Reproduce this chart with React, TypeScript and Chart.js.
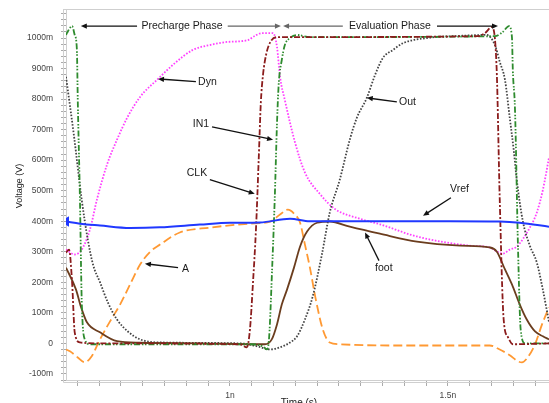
import React, { useEffect, useRef } from 'react';
import { Chart, registerables } from 'chart.js';

Chart.register(...registerables);

// ---- axis settings (time in ns, voltage in mV) ----
const timeMin = 0.624;
const timeMax = 1.732;
const voltMin = -120;
const voltMax = 1095;
const timeTickLabels: Record<string, string> = { '1': '1n', '1.5': '1.5n' };

// ---- series ----
const clkT = [0.624, 0.631, 0.638, 0.644, 0.656, 0.702, 1.023, 1.039, 1.046, 1.053, 1.060, 1.066, 1.071, 1.076, 1.083, 1.092, 1.108, 1.161, 1.569, 1.585, 1.601, 1.612, 1.619, 1.628, 1.638, 1.649, 1.732];
const clkV = [297, 307, 199, 36, 3, 0, -3, -13, 46, 200, 380, 600, 790, 880, 945, 985, 1003, 1003, 1006, 1016, 1036, 895, 471, 78, 20, -3, 0];

const in1T = [0.624, 0.626, 0.638, 0.644, 0.649, 0.651, 0.656, 0.660, 0.667, 0.679, 1.046, 1.076, 1.085, 1.090, 1.097, 1.103, 1.108, 1.112, 1.119, 1.126, 1.138, 1.154, 1.183, 1.608, 1.626, 1.640, 1.647, 1.649, 1.654, 1.661, 1.667, 1.677, 1.732];
const in1V = [1010, 1016, 1039, 1010, 961, 797, 471, 144, 13, -3, -3, -10, -20, 20, 250, 480, 720, 850, 928, 977, 1000, 1010, 1003, 1006, 1020, 1039, 1003, 895, 765, 307, 46, 0, 0];

const dynT = [0.624, 0.644, 0.660, 0.679, 0.695, 0.718, 0.741, 0.764, 0.794, 0.835, 0.874, 0.915, 0.954, 0.993, 1.041, 1.057, 1.073, 1.099, 1.108, 1.115, 1.126, 1.149, 1.172, 1.206, 1.241, 1.298, 1.344, 1.429, 1.550, 1.596, 1.612, 1.626, 1.642, 1.658, 1.688, 1.704, 1.718, 1.732];
const dynV = [307, 291, 307, 373, 471, 585, 667, 738, 807, 866, 918, 961, 977, 987, 993, 1007, 1016, 1016, 971, 873, 797, 660, 560, 490, 440, 408, 390, 350, 320, 314, 301, 294, 307, 317, 379, 428, 503, 608];

const outT = [0.624, 0.642, 0.660, 0.674, 0.686, 0.702, 0.720, 0.741, 0.766, 0.794, 0.839, 1.023, 1.064, 1.092, 1.115, 1.138, 1.154, 1.172, 1.190, 1.211, 1.229, 1.252, 1.275, 1.291, 1.314, 1.333, 1.351, 1.374, 1.397, 1.452, 1.528, 1.589, 1.608, 1.619, 1.631, 1.642, 1.651, 1.658, 1.672, 1.688, 1.704, 1.718, 1.732];
const outV = [873, 683, 471, 340, 258, 200, 134, 78, 39, 13, 3, 0, -10, -20, -13, 3, 23, 78, 154, 291, 428, 536, 667, 738, 804, 879, 935, 961, 983, 1000, 1007, 1010, 977, 922, 863, 738, 634, 536, 400, 320, 265, 175, 70];

const aT = [0.624, 0.633, 0.651, 0.667, 0.683, 0.702, 0.725, 0.748, 0.771, 0.794, 0.817, 0.839, 0.885, 0.954, 1.046, 1.092, 1.115, 1.133, 1.149, 1.161, 1.172, 1.183, 1.197, 1.213, 1.229, 1.252, 1.390, 1.596, 1.619, 1.642, 1.661, 1.670, 1.683, 1.700, 1.716, 1.732];
const aV = [-20, -26, -46, -62, -42, 13, 72, 127, 193, 258, 300, 323, 363, 379, 392, 399, 422, 438, 422, 395, 324, 252, 144, 46, 3, -3, -7, -7, -20, -39, -59, -62, -46, -3, 62, 118];

const vrefT = [0.624, 0.656, 0.702, 0.771, 0.839, 0.931, 1.0, 1.069, 1.138, 1.183, 1.275, 1.505, 1.619, 1.665, 1.732];
const vrefV = [399, 392, 386, 378, 380, 389, 395, 396, 408, 400, 400, 400, 399, 395, 382];

const footT = [0.624, 0.647, 0.658, 0.672, 0.702, 0.741, 0.794, 0.931, 1.080, 1.096, 1.108, 1.119, 1.131, 1.147, 1.161, 1.177, 1.200, 1.229, 1.275, 1.344, 1.429, 1.528, 1.596, 1.612, 1.631, 1.649, 1.665, 1.681, 1.700, 1.718, 1.732];
const footV = [248, 176, 121, 69, 36, 7, 2, 0, -3, 13, 62, 127, 176, 248, 317, 366, 395, 399, 382, 359, 333, 320, 314, 301, 242, 186, 127, 78, 39, 23, 13];

// ---- annotations (data coordinates) ----
const phaseLabels = ['Precharge Phase', 'Evaluation Phase'];
const phaseLabelT = [0.890, 1.367];
const phaseLevel = 1039;
const phaseArrowFromT = [0.787, 0.995, 1.259, 1.475];
const phaseArrowToT = [0.658, 1.117, 1.122, 1.615];

const noteLabels = ['Dyn', 'Out', 'IN1', 'CLK', 'Vref', 'foot', 'A'];
const noteTextT = [0.927, 1.388, 0.915, 0.901, 1.505, 1.333, 0.890];
const noteTextV = [857, 791, 719, 556, 506, 248, 242];
const noteFromT = [0.922, 1.383, 0.959, 0.954, 1.507, 1.342, 0.881];
const noteFromV = [857, 791, 709, 536, 477, 271, 248];
const noteToT = [0.835, 1.314, 1.099, 1.057, 1.443, 1.310, 0.805];
const noteToV = [866, 804, 667, 490, 418, 363, 261];

const FONT = '"Liberation Sans", Arial, Helvetica, sans-serif';

const toPts = (t: number[], v: number[]) => t.map((x, i) => ({ x, y: v[i] }));

function arrow(ctx: CanvasRenderingContext2D, x1: number, y1: number, x2: number, y2: number, color: string) {
  const ang = Math.atan2(y2 - y1, x2 - x1);
  const len = 6;
  const hw = 2.6;
  ctx.strokeStyle = color;
  ctx.fillStyle = color;
  ctx.lineWidth = 1.3;
  ctx.beginPath();
  ctx.moveTo(x1, y1);
  ctx.lineTo(x2 - Math.cos(ang) * len * 0.8, y2 - Math.sin(ang) * len * 0.8);
  ctx.stroke();
  ctx.beginPath();
  ctx.moveTo(x2, y2);
  ctx.lineTo(x2 - Math.cos(ang) * len - Math.sin(ang) * hw, y2 - Math.sin(ang) * len + Math.cos(ang) * hw);
  ctx.lineTo(x2 - Math.cos(ang) * len + Math.sin(ang) * hw, y2 - Math.sin(ang) * len - Math.cos(ang) * hw);
  ctx.closePath();
  ctx.fill();
}

const noPad = (s: any) => {
  s.paddingTop = 0;
  s.paddingBottom = 0;
  s.paddingLeft = 0;
  s.paddingRight = 0;
};

export default function App() {
  const ref = useRef<HTMLCanvasElement>(null);

  useEffect(() => {
    document.body.style.margin = '0';
    const canvas = ref.current;
    if (!canvas) return;

    const decorPlugin = {
      id: 'decor',
      beforeDatasetsDraw(chart: any) {
        const { ctx, chartArea: a } = chart;
        ctx.save();
        ctx.strokeStyle = '#cfcfcf';
        ctx.lineWidth = 1;
        ctx.beginPath();
        ctx.moveTo(a.left - 2.5, a.top + 0.5);
        ctx.lineTo(a.right, a.top + 0.5);
        ctx.moveTo(a.left - 2.5, a.top);
        ctx.lineTo(a.left - 2.5, a.bottom + 2.5);
        ctx.lineTo(a.right, a.bottom + 2.5);
        ctx.stroke();
        ctx.restore();
      },
      afterDatasetsDraw(chart: any) {
        const { ctx } = chart;
        const xs = chart.scales.x;
        const ys = chart.scales.y;
        ctx.save();
        ctx.font = `10.5px ${FONT}`;
        ctx.textBaseline = 'middle';
        ctx.textAlign = 'center';
        ctx.fillStyle = '#1a1a1a';
        const py = ys.getPixelForValue(phaseLevel);
        phaseLabels.forEach((s, i) => ctx.fillText(s, xs.getPixelForValue(phaseLabelT[i]), py));
        const phaseColors = ['#111', '#666', '#666', '#111'];
        phaseArrowFromT.forEach((t, i) => {
          arrow(ctx, xs.getPixelForValue(t), py, xs.getPixelForValue(phaseArrowToT[i]), py, phaseColors[i]);
        });
        ctx.textAlign = 'left';
        noteLabels.forEach((s, i) => {
          ctx.fillStyle = '#1a1a1a';
          ctx.fillText(s, xs.getPixelForValue(noteTextT[i]), ys.getPixelForValue(noteTextV[i]));
          arrow(
            ctx,
            xs.getPixelForValue(noteFromT[i]),
            ys.getPixelForValue(noteFromV[i]),
            xs.getPixelForValue(noteToT[i]),
            ys.getPixelForValue(noteToV[i]),
            '#111'
          );
        });
        ctx.restore();
      },
      afterDraw(chart: any) {
        const { ctx } = chart;
        ctx.save();
        ctx.fillStyle = '#222';
        ctx.textAlign = 'center';
        ctx.textBaseline = 'middle';
        ctx.font = `10px ${FONT}`;
        ctx.fillText('Time (s)', 299, 403);
        ctx.translate(20, 186);
        ctx.rotate(-Math.PI / 2);
        ctx.font = `9px ${FONT}`;
        ctx.fillText('Voltage (V)', 0, 0);
        ctx.restore();
      },
    };

    const line = (label: string, t: number[], v: number[], color: string, dash: number[], width: number, extra: any = {}) => ({
      label,
      data: toPts(t, v),
      borderColor: color,
      backgroundColor: color,
      borderDash: dash,
      borderWidth: width,
      pointRadius: 0,
      fill: false,
      cubicInterpolationMode: 'monotone',
      ...extra,
    });

    const chart = new Chart(canvas, {
      type: 'line',
      data: {
        datasets: [
          line('Vref', vrefT, vrefV, '#2038ff', [], 2, {
            pointRadius: (c: any) => (c.dataIndex === 0 ? 4 : 0),
            pointStyle: 'triangle',
            pointRotation: -90,
          }),
          line('CLK', clkT, clkV, '#8b1c1c', [6, 2, 2, 2], 1.8),
          line('IN1', in1T, in1V, '#2e8b2e', [6, 2, 1.5, 1.5, 1.5, 2], 1.8),
          line('foot', footT, footV, '#6b3d1e', [], 1.8),
          line('Out', outT, outV, '#444444', [1.6, 1.6], 1.8),
          line('Dyn', dynT, dynV, '#ff40ff', [1.6, 1.6], 1.8),
          line('A', aT, aV, '#ff9933', [9, 4], 1.8),
        ] as any,
      },
      options: {
        responsive: false,
        animation: false,
        events: [],
        layout: { autoPadding: false, padding: { top: 9, right: 0, left: 0, bottom: 0 } },
        plugins: { legend: { display: false }, tooltip: { enabled: false } },
        scales: {
          x: {
            type: 'linear',
            min: timeMin,
            max: timeMax,
            afterFit: (s: any) => {
              s.height = 23;
              noPad(s);
            },
            border: { display: true, color: '#cfcfcf', width: 1 },
            grid: { drawOnChartArea: false, drawTicks: true, tickLength: 6, tickColor: '#aaa', color: '#aaa' },
            ticks: {
              stepSize: 0.05,
              includeBounds: false,
              autoSkip: false,
              maxRotation: 0,
              padding: 5,
              color: '#444',
              font: { family: FONT, size: 8.5 },
              callback: (v: any) => timeTickLabels[String(Math.round(Number(v) * 100) / 100)] ?? '',
            },
          },
          y: {
            type: 'linear',
            min: voltMin,
            max: voltMax,
            afterFit: (s: any) => {
              s.width = 66;
              noPad(s);
            },
            border: { display: true, color: '#cfcfcf', width: 1 },
            grid: { drawOnChartArea: false, drawTicks: true, tickLength: 5, tickColor: '#aaa', color: '#aaa' },
            ticks: {
              stepSize: 20,
              includeBounds: false,
              autoSkip: false,
              padding: 8,
              color: '#444',
              font: { family: FONT, size: 8.5 },
              callback: (v: any) => {
                const n = Math.round(Number(v));
                if (n % 100 !== 0) return '';
                return n === 0 ? '0' : `${n}m`;
              },
            },
          },
        },
      },
      plugins: [decorPlugin],
    } as any);

    return () => chart.destroy();
  }, []);

  return <canvas ref={ref} width={549} height={403} style={{ display: 'block' }} />;
}
